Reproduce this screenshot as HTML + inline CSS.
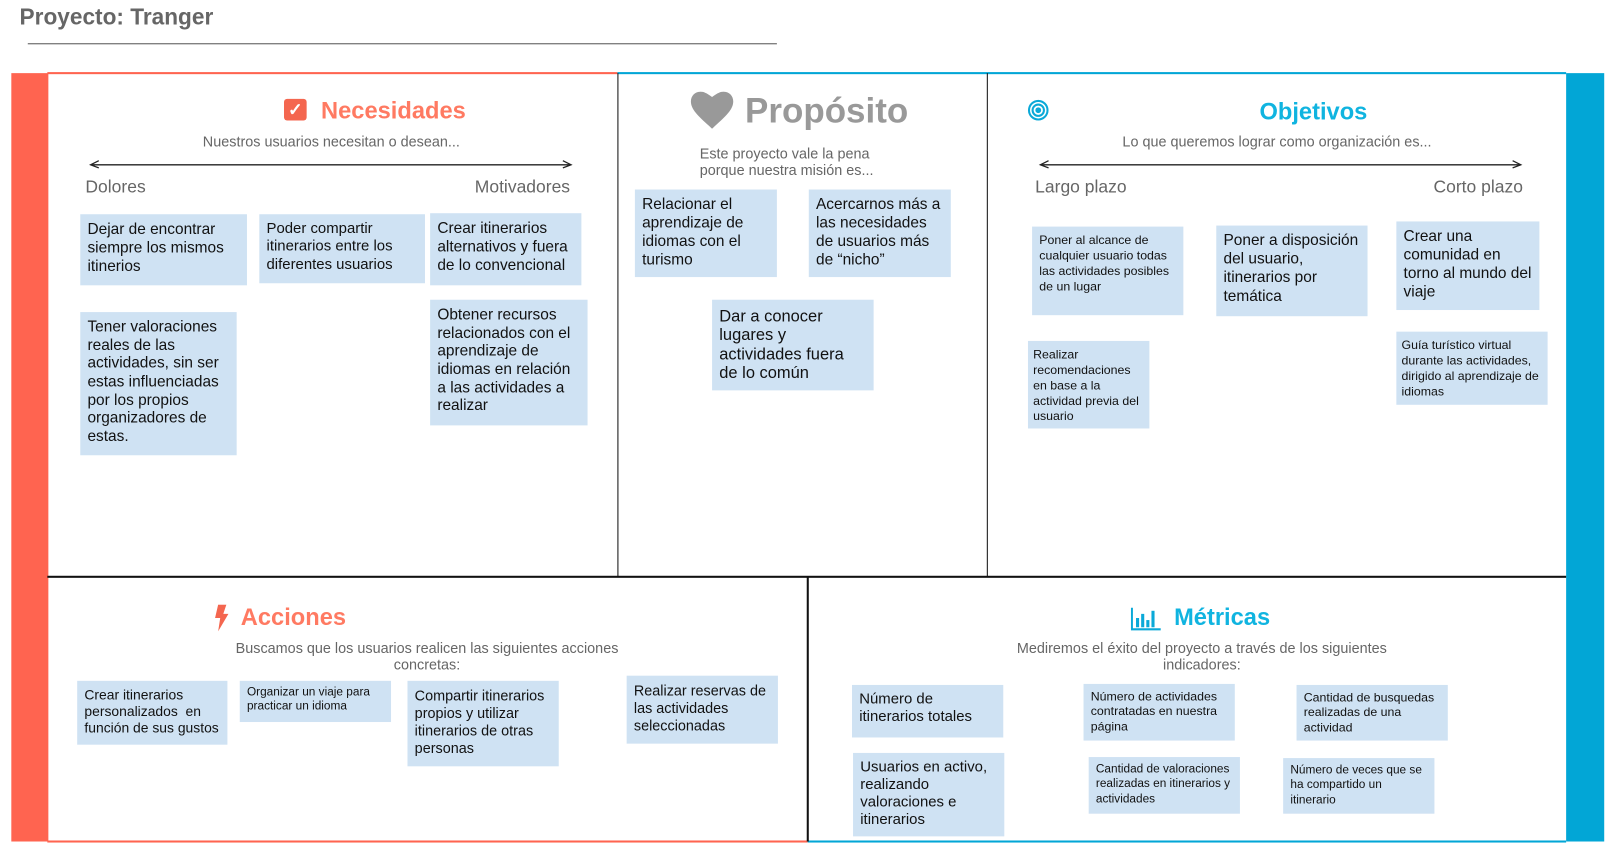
<!DOCTYPE html>
<html><head><meta charset="utf-8"><style>
html,body{margin:0;padding:0;background:#fff;overflow:hidden}
#w{position:absolute;left:0;top:0;width:1568px;height:828px;transform:scale(1.029,1.03);transform-origin:0 0;font-family:"Liberation Sans",Arial,sans-serif}
#w div{position:absolute;box-sizing:border-box}
.s{background:#cfe2f3;color:#111;padding:6px 7px;line-height:1.2}
.t{font-weight:bold;font-size:23px;white-space:nowrap}
.sub{color:#666;font-size:14px;text-align:center;white-space:nowrap;line-height:16px}
.lab{color:#666;font-size:17px;white-space:nowrap}
.ln{background:#111}
</style></head><body><div id="w">
<div style="left:19px;top:4px;font-size:22px;font-weight:bold;color:#666">Proyecto: Tranger</div>
<div style="left:27px;top:42px;width:728px;height:1px;background:#555"></div>

<div style="left:11px;top:71px;width:36px;height:746px;background:#ff6450"></div>
<div style="left:1522px;top:71px;width:37px;height:746px;background:#02a6d6"></div>
<div style="left:46px;top:70px;width:554px;height:2px;background:#ff6450"></div>
<div style="left:600px;top:70px;width:922px;height:2px;background:#02a6d6"></div>
<div style="left:46px;top:816px;width:739px;height:2px;background:#ff6450"></div>
<div style="left:785px;top:816px;width:737px;height:2px;background:#02a6d6"></div>
<div class="ln" style="left:600px;top:71px;width:1px;height:489px"></div>
<div class="ln" style="left:959px;top:71px;width:1px;height:489px"></div>
<div class="ln" style="left:46px;top:559px;width:1476px;height:1.5px"></div>
<div class="ln" style="left:784px;top:560px;width:1.5px;height:257px"></div>

<!-- Necesidades -->
<div style="left:276px;top:96px;width:22px;height:21px;background:#f4664f;border-radius:3px;color:#fff;font-size:17px;font-weight:bold;text-align:center;line-height:21px">✓</div>
<div class="t" style="left:312px;top:94px;color:#ff7a62">Necesidades</div>
<div class="sub" style="left:122px;top:129px;width:400px">Nuestros usuarios necesitan o desean...</div>
<svg style="position:absolute;left:85px;top:154px" width="475" height="12"><line x1="3" y1="6" x2="470" y2="6" stroke="#222" stroke-width="1.3"/><path d="M11 2 L3 6 L11 9 M462 2 L470 6 L462 9" fill="none" stroke="#222" stroke-width="1.2"/></svg>
<div class="lab" style="left:83px;top:172px">Dolores</div>
<div class="lab" style="left:354px;top:172px;width:200px;text-align:right">Motivadores</div>
<div class="s" style="left:78px;top:208px;width:162px;height:69px;font-size:15px">Dejar de encontrar siempre los mismos itinerios</div>
<div class="s" style="left:252px;top:208px;width:161px;height:67px;font-size:14.5px">Poder compartir itinerarios entre los diferentes usuarios</div>
<div class="s" style="left:418px;top:207px;width:147px;height:70px;font-size:15px">Crear itinerarios alternativos y fuera de lo convencional</div>
<div class="s" style="left:78px;top:303px;width:152px;height:139px;font-size:15px;line-height:1.18">Tener valoraciones reales de las actividades, sin ser estas influenciadas por los propios organizadores de estas.</div>
<div class="s" style="left:418px;top:291px;width:153px;height:122px;font-size:15px;line-height:1.18">Obtener recursos relacionados con el aprendizaje de idiomas en relación a las actividades a realizar</div>

<!-- Propósito -->
<svg style="position:absolute;left:671px;top:89px" width="42" height="36" viewBox="0 0 24 21"><path d="M12 21 L10.3 19.4 C4.2 13.9 0 10.1 0 5.5 C0 2.4 2.4 0 5.5 0 C7.2 0 8.9 0.8 12 3 C15.1 0.8 16.8 0 18.5 0 C21.6 0 24 2.4 24 5.5 C24 10.1 19.8 13.9 13.7 19.4 Z" fill="#999"/></svg>
<div class="t" style="left:724px;top:89px;color:#999;font-size:34px">Propósito</div>
<div class="sub" style="left:612px;top:141px;width:300px;text-align:left;padding-left:68px">Este proyecto vale la pena<br>porque nuestra misión es...</div>
<div class="s" style="left:617px;top:184px;width:138px;height:85px;font-size:15px">Relacionar el aprendizaje de idiomas con el turismo</div>
<div class="s" style="left:786px;top:184px;width:138px;height:85px;font-size:15px">Acercarnos más a las necesidades de usuarios más de “nicho”</div>
<div class="s" style="left:692px;top:291px;width:157px;height:88px;font-size:16px;line-height:1.15;padding-top:8px">Dar a conocer lugares y actividades fuera de lo común</div>

<!-- Objetivos -->
<svg style="position:absolute;left:998px;top:96px" width="22" height="22"><circle cx="11" cy="11" r="9" fill="none" stroke="#0aa9d8" stroke-width="2"/><circle cx="11" cy="11" r="5.5" fill="none" stroke="#0aa9d8" stroke-width="2"/><circle cx="11" cy="11" r="2.8" fill="#0aa9d8"/></svg>
<div class="t" style="left:1224px;top:95px;color:#10b4e0">Objetivos</div>
<div class="sub" style="left:1041px;top:129px;width:400px">Lo que queremos lograr como organización es...</div>
<svg style="position:absolute;left:1008px;top:154px" width="475" height="12"><line x1="3" y1="6" x2="470" y2="6" stroke="#222" stroke-width="1.3"/><path d="M11 2 L3 6 L11 9 M462 2 L470 6 L462 9" fill="none" stroke="#222" stroke-width="1.2"/></svg>
<div class="lab" style="left:1006px;top:172px">Largo plazo</div>
<div class="lab" style="left:1280px;top:172px;width:200px;text-align:right">Corto plazo</div>
<div class="s" style="left:1003px;top:220px;width:147px;height:86px;font-size:12px;line-height:1.25">Poner al alcance de cualquier usuario todas las actividades posibles de un lugar</div>
<div class="s" style="left:1182px;top:219px;width:147px;height:88px;font-size:15px;line-height:1.2">Poner a disposición del usuario, itinerarios por temática</div>
<div class="s" style="left:1357px;top:215px;width:139px;height:86px;font-size:15px;line-height:1.2">Crear una comunidad en torno al mundo del viaje</div>
<div class="s" style="left:999px;top:331px;width:118px;height:85px;font-size:12px;line-height:1.25;padding-left:5px">Realizar recomendaciones en base a la actividad previa del usuario</div>
<div class="s" style="left:1357px;top:322px;width:147px;height:71px;font-size:12px;line-height:1.25;padding-left:5px">Guía turístico virtual durante las actividades, dirigido al aprendizaje de idiomas</div>

<!-- Acciones -->
<svg style="position:absolute;left:207px;top:587px" width="16" height="26" viewBox="0 0 16 26"><path d="M5 0 L13 0 L10 9 L15 9 L5 26 L7 13 L2 13 Z" fill="#f4664f"/></svg>
<div class="t" style="left:234px;top:586px;color:#ff7a62">Acciones</div>
<div class="sub" style="left:165px;top:621px;width:500px">Buscamos que los usuarios realicen las siguientes acciones<br>concretas:</div>
<div class="s" style="left:75px;top:661px;width:146px;height:62px;font-size:13.5px;line-height:1.2">Crear itinerarios personalizados&nbsp; en función de sus gustos</div>
<div class="s" style="left:233px;top:661px;width:147px;height:40px;font-size:11.5px;line-height:1.2;padding-top:5px">Organizar un viaje para practicar un idioma</div>
<div class="s" style="left:396px;top:661px;width:147px;height:83px;font-size:14px;line-height:1.22">Compartir itinerarios propios y utilizar itinerarios de otras personas</div>
<div class="s" style="left:609px;top:656px;width:147px;height:66px;font-size:14px;line-height:1.22">Realizar reservas de las actividades seleccionadas</div>

<!-- Métricas -->
<svg style="position:absolute;left:1099px;top:589px" width="30" height="24"><path d="M1 1 V22 H29" fill="none" stroke="#0aa9d8" stroke-width="2"/><rect x="5" y="11" width="3" height="9" fill="#0aa9d8"/><rect x="10" y="7" width="3" height="13" fill="#0aa9d8"/><rect x="15" y="13" width="3" height="7" fill="#0aa9d8"/><rect x="20" y="4" width="3" height="16" fill="#0aa9d8"/></svg>
<div class="t" style="left:1141px;top:586px;color:#10b4e0">Métricas</div>
<div class="sub" style="left:918px;top:621px;width:500px">Mediremos el éxito del proyecto a través de los siguientes<br>indicadores:</div>
<div class="s" style="left:828px;top:665px;width:147px;height:51px;font-size:14.5px;line-height:1.2">Número de itinerarios totales</div>
<div class="s" style="left:829px;top:731px;width:147px;height:81px;font-size:14.5px;line-height:1.18">Usuarios en activo, realizando valoraciones e itinerarios</div>
<div class="s" style="left:1053px;top:664px;width:147px;height:55px;font-size:12px;line-height:1.2;padding-top:5px">Número de actividades contratadas en nuestra página</div>
<div class="s" style="left:1260px;top:665px;width:147px;height:54px;font-size:12px;line-height:1.2;padding-top:5px">Cantidad de busquedas realizadas de una actividad</div>
<div class="s" style="left:1058px;top:735px;width:147px;height:55px;font-size:11.5px;line-height:1.25;padding-top:5px">Cantidad de valoraciones realizadas en itinerarios y actividades</div>
<div class="s" style="left:1247px;top:736px;width:147px;height:54px;font-size:11.5px;line-height:1.25;padding-top:5px">Número de veces que se ha compartido un itinerario</div>
</div></body></html>
